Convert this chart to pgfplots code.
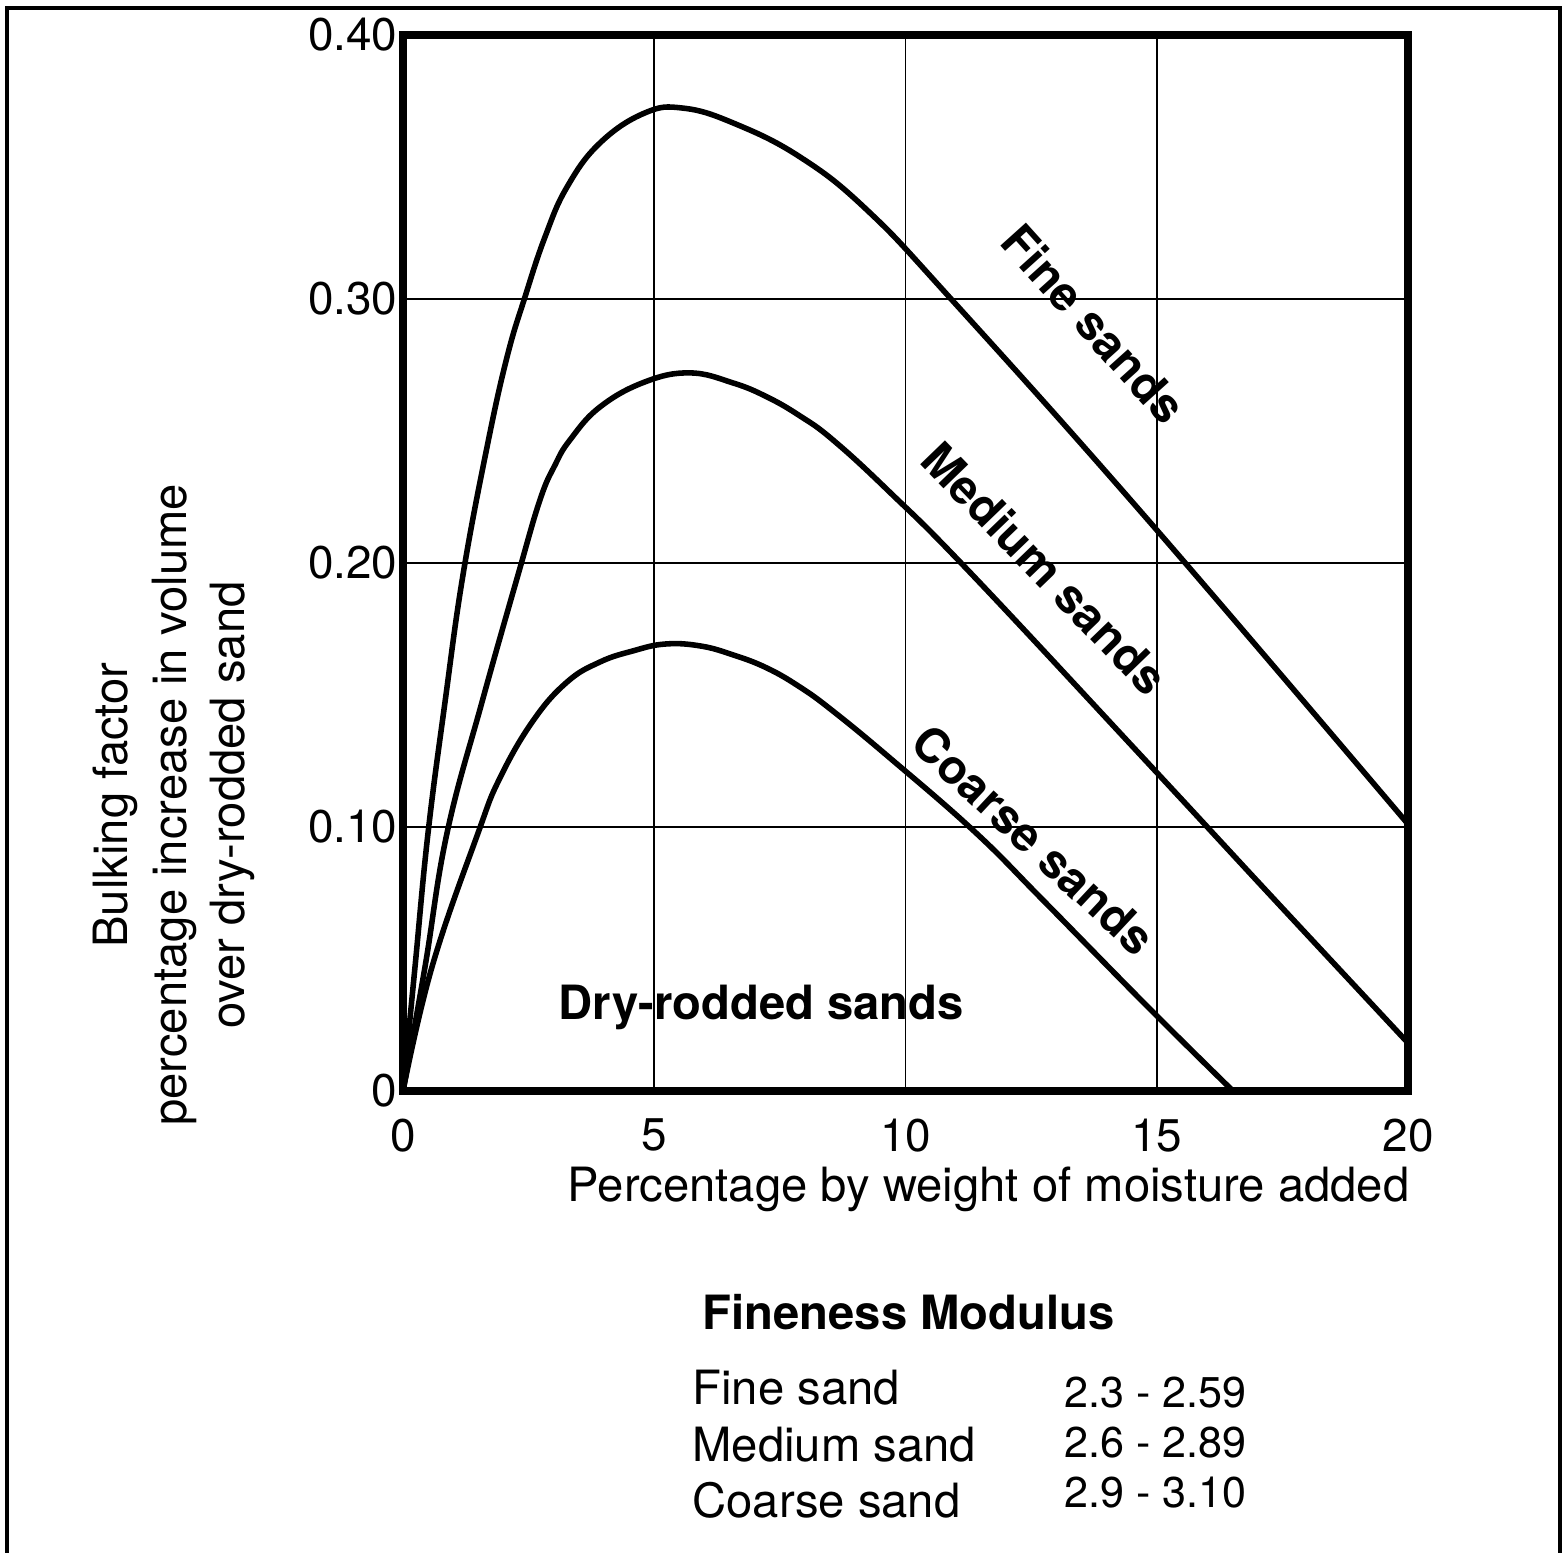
\documentclass[border=0pt]{standalone}
\usepackage{pgfplots}
\pgfplotsset{compat=1.18}
\usepackage{fontspec}
\setmainfont{TeX Gyre Heros}
\begin{document}
\begin{tikzpicture}[x=0.36pt,y=0.36pt]
\useasboundingbox (0,0) rectangle (1562,1553);
\draw[line width=1.1pt] (7,-10) -- (7,1545) -- (1560,1545) -- (1560,-10);
\begin{axis}[
  at={(145.08pt,166.32pt)}, anchor=south west,
  scale only axis, width=361.8pt, height=380.16pt,
  xmin=0, xmax=20, ymin=0, ymax=0.4,
  xtick={0,5,10,15,20}, xticklabels={0,5,10,15,20},
  ytick={0,0.1,0.2,0.3,0.4}, yticklabels={0,0.10,0.20,0.30,0.40},
  grid=major, major grid style={line width=0.7pt, black},
  major tick length=0pt,
  axis line style={line width=2.6pt},
  ticklabel style={font=\fontsize{16.5}{18}\selectfont},
  xticklabel style={yshift=-6.5pt},
  yticklabel style={xshift=1.5pt},
]
% Fine sands
\addplot[black, line width=2pt, mark=none, smooth, tension=0.7] coordinates {(0,0) (0.239,0.0470) (0.498,0.0977) (0.836,0.1473) (1.194,0.1955) (1.672,0.2439) (2.070,0.2780) (2.428,0.3008) (2.826,0.3235) (3.264,0.3424) (3.920,0.3591) (4.816,0.3705) (5.572,0.3723) (6.567,0.3667) (7.900,0.3538) (9.234,0.3337) (10.945,0.2992) (14.826,0.2163) (20,0.1011)};
% Medium sands
\addplot[black, line width=2pt, mark=none, smooth, tension=0.7] coordinates {(0,0) (0.438,0.0470) (0.876,0.0977) (1.572,0.1473) (2.289,0.1955) (2.726,0.2239) (3.025,0.2371) (3.323,0.2466) (3.920,0.2591) (4.816,0.2686) (5.711,0.2720) (6.567,0.2682) (7.244,0.2629) (7.900,0.2557) (8.557,0.2466) (9.672,0.2271) (11.276,0.1966) (14.826,0.1242) (17.313,0.0731) (20,0.0182)};
% Coarse sands
\addplot[black, line width=2pt, mark=none, smooth, tension=0.7] coordinates {(0,0) (0.577,0.0470) (1.493,0.0977) (1.930,0.1186) (2.587,0.1402) (3.264,0.1549) (3.920,0.1625) (4.577,0.1667) (5.214,0.1693) (5.910,0.1686) (6.567,0.1652) (7.244,0.1602) (7.900,0.1530) (8.557,0.1439) (9.692,0.1261) (11.383,0.0981) (12.736,0.0723) (14.826,0.0318) (16.517,0)};
\end{axis}
\node[rotate=90, align=center, font=\fontsize{17}{21}\selectfont] at (174,748) {Bulking factor\\percentage increase in volume\\over dry-rodded sand};
\node[anchor=base east, inner sep=0pt, font=\fontsize{17}{20}\selectfont] at (1410,351) {Percentage by weight of moisture added};
\node[anchor=base west, inner sep=0pt, font=\fontsize{17}{20}\selectfont\bfseries] at (558,533) {Dry-rodded sands};
\node[rotate=-48, inner sep=0pt, font=\fontsize{17}{20}\selectfont\bfseries] at (1094,1229) {Fine sands};
\node[rotate=-46, inner sep=0pt, font=\fontsize{17}{20}\selectfont\bfseries] at (1045,985) {Medium sands};
\node[rotate=-43, inner sep=0pt, font=\fontsize{17}{20}\selectfont\bfseries] at (1034,713) {Coarse sands};
\node[anchor=base west, inner sep=0pt, font=\fontsize{17}{20}\selectfont\bfseries] at (702,223) {Fineness Modulus};
\node[anchor=base west, inner sep=0pt, font=\fontsize{17}{20}\selectfont] at (692,148) {Fine sand};
\node[anchor=base west, inner sep=0pt, font=\fontsize{17}{20}\selectfont] at (692,91) {Medium sand};
\node[anchor=base west, inner sep=0pt, font=\fontsize{17}{20}\selectfont] at (692,35) {Coarse sand};
\node[anchor=base west, inner sep=0pt, font=\fontsize{15.5}{18}\selectfont] at (1064,145) {2.3 - 2.59};
\node[anchor=base west, inner sep=0pt, font=\fontsize{15.5}{18}\selectfont] at (1064,95) {2.6 - 2.89};
\node[anchor=base west, inner sep=0pt, font=\fontsize{15.5}{18}\selectfont] at (1064,45) {2.9 - 3.10};
\end{tikzpicture}
\end{document}
